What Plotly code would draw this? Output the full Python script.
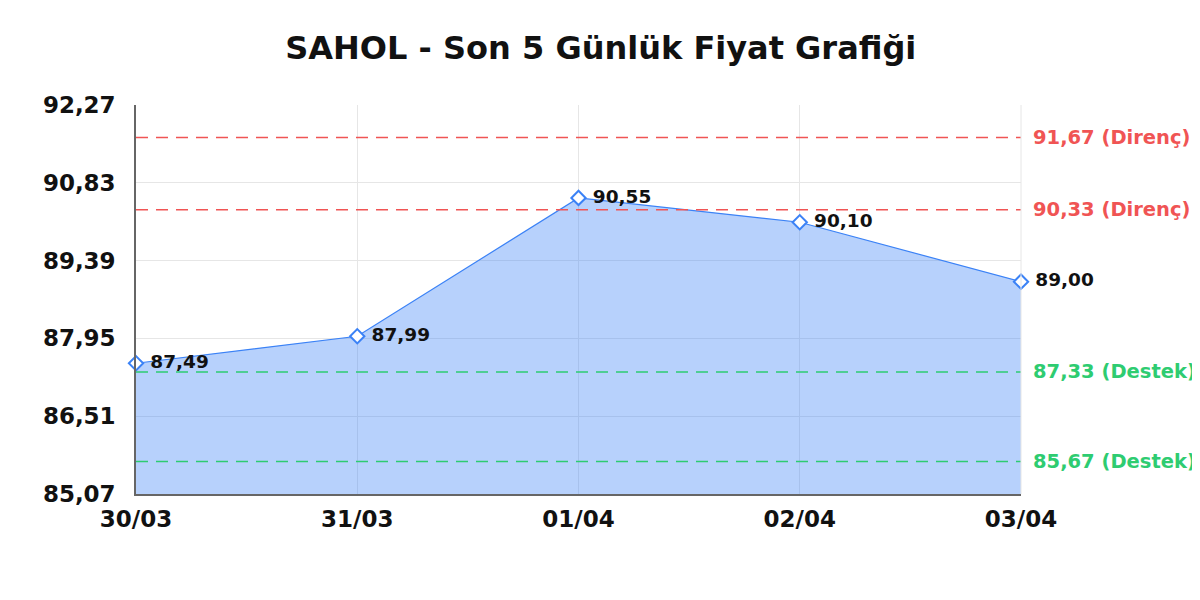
import plotly.graph_objects as go

dates = ["30/03", "31/03", "01/04", "02/04", "03/04"]
prices = [87.49, 87.99, 90.55, 90.10, 89.00]
price_labels = ["87,49", "87,99", "90,55", "90,10", "89,00"]

y_ticks = [85.07, 86.51, 87.95, 89.39, 90.83, 92.27]
y_tick_labels = ["85,07", "86,51", "87,95", "89,39", "90,83", "92,27"]

resistance = [91.67, 90.33]
support = [87.33, 85.67]

red = "#f05454"
green = "#2ecc71"
blue = "#3b82f6"
font = "DejaVu Sans"

x_pos = list(range(len(dates)))

fig = go.Figure()
fig.add_trace(go.Scatter(
    x=x_pos, y=prices,
    mode="lines+markers+text",
    fill="tozeroy",
    fillcolor="rgba(59,130,246,0.37)",
    line=dict(color=blue, width=1.2),
    marker=dict(symbol="diamond", size=11, color="white", line=dict(width=2, color=blue)),
    text=["<b> " + t + "</b>" for t in price_labels],
    textposition="middle right",
    textfont=dict(family=font, size=18.5, color="#111"),
    cliponaxis=False,
    showlegend=False,
))

for lvl in resistance:
    fig.add_hline(y=lvl, line=dict(color=red, width=1.5, dash="12px,8px"))
    fig.add_annotation(x=1, xref="paper", y=lvl, yref="y", xanchor="left",
                       xshift=10, showarrow=False,
                       text=f"<b>{lvl:.2f}".replace(".", ",") + " (Direnç)</b>",
                       font=dict(family=font, size=19.5, color=red))
for lvl in support:
    fig.add_hline(y=lvl, line=dict(color=green, width=1.5, dash="12px,8px"))
    fig.add_annotation(x=1, xref="paper", y=lvl, yref="y", xanchor="left",
                       xshift=10, showarrow=False,
                       text=f"<b>{lvl:.2f}".replace(".", ",") + " (Destek)</b>",
                       font=dict(family=font, size=19.5, color=green))

fig.update_layout(
    width=1200, height=600,
    paper_bgcolor="white", plot_bgcolor="white",
    margin=dict(l=128, r=187, t=97, b=114),
    title=dict(text="<b>SAHOL - Son 5 Günlük Fiyat Grafiği</b>", x=0.494, xanchor="center",
               y=0.933, yanchor="middle",
               font=dict(family=font, size=32, color="#111")),
    font=dict(family=font),
)
fig.update_xaxes(
    range=[0, 4], tickvals=x_pos, ticktext=["<b>" + d + "</b>" for d in dates],
    tickfont=dict(family=font, size=23, color="#111"),
    showgrid=True, gridcolor="#e6e6e6", gridwidth=1,
    showline=True, linecolor="#666", linewidth=1.5, mirror=False,
    ticks="", zeroline=False, ticklabelstandoff=4,
)
fig.update_yaxes(
    range=[85.07, 92.27], tickvals=y_ticks, ticktext=["<b>" + t + "</b>" for t in y_tick_labels],
    tickfont=dict(family=font, size=23, color="#111"),
    showgrid=True, gridcolor="#e6e6e6", gridwidth=1,
    showline=True, linecolor="#666", linewidth=1.5,
    ticks="", zeroline=False, ticklabelstandoff=14,
)
# light right border
fig.add_shape(type="line", xref="paper", yref="paper", x0=1, x1=1, y0=0, y1=1,
              line=dict(color="#e6e6e6", width=1))

fig.write_html("out.html")
